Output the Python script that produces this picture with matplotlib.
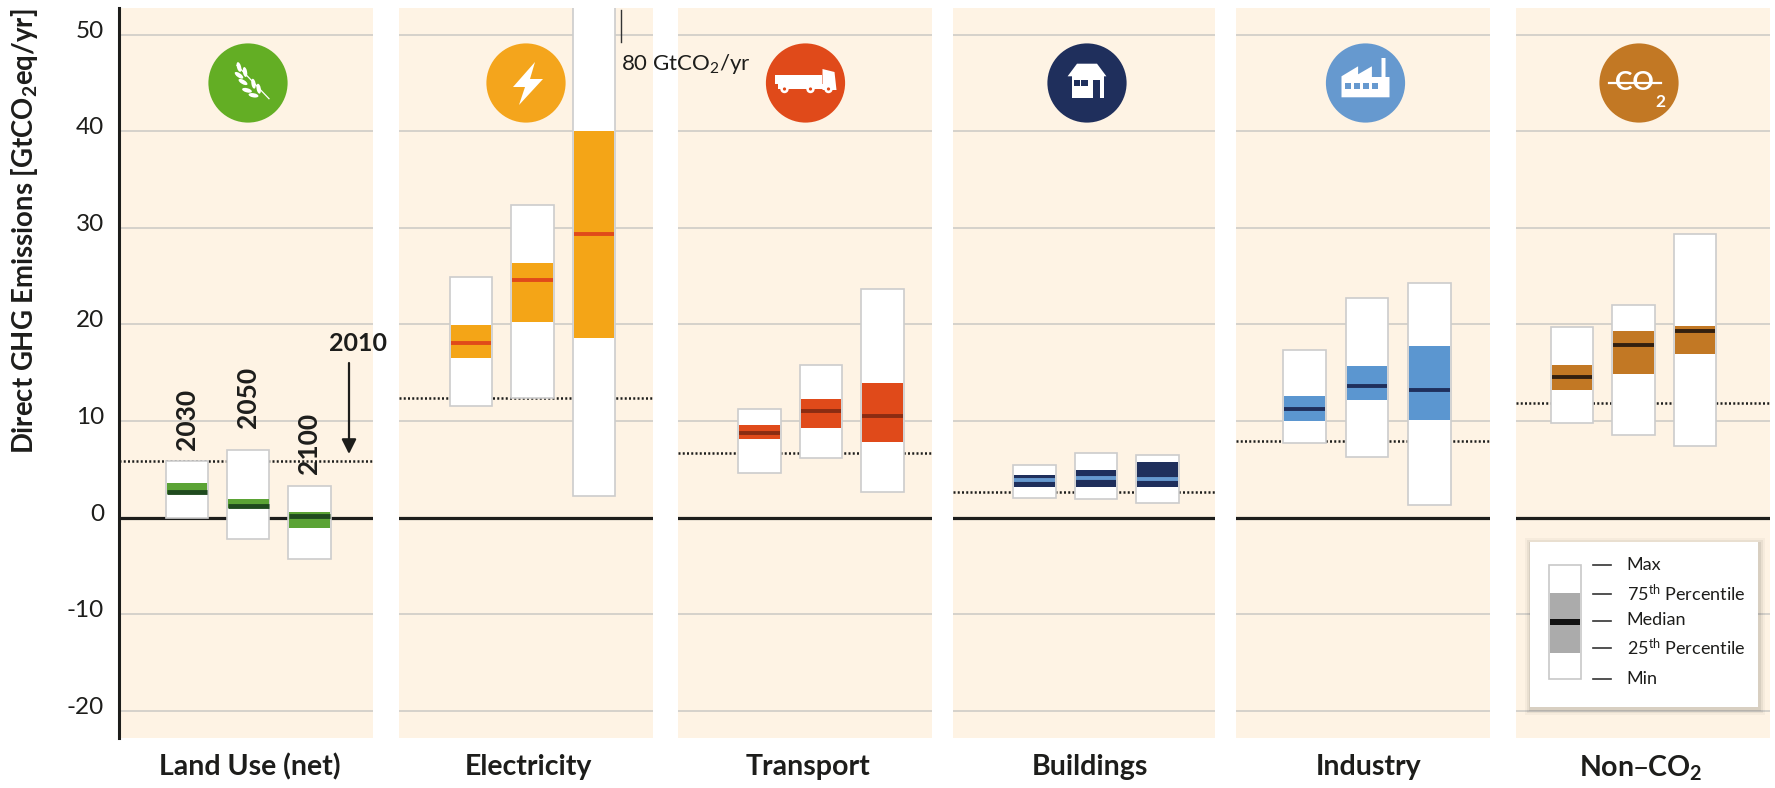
#!/usr/bin/env python3
from __future__ import annotations

import matplotlib
matplotlib.use("Agg")
import matplotlib.pyplot as plt
from matplotlib.patches import Circle, Ellipse, Polygon, Rectangle
from matplotlib.transforms import ScaledTranslation

FIG_W, FIG_H = 1775, 788

sectors = ["Land Use (net)", "Electricity", "Transport", "Buildings", "Industry", "Non\u2013CO$_2$"]
years = ["2030", "2050", "2100"]
yticks = [-20, -10, 0, 10, 20, 30, 40, 50]

# one row per sector, one value per year
box_max = [
    [5.9, 7.0, 3.3],
    [24.9, 32.4, 80.0],
    [11.2, 15.8, 23.7],
    [5.4, 6.7, 6.5],
    [17.4, 22.7, 24.3],
    [19.7, 22.0, 29.4],
]
box_q75 = [
    [3.55, 1.9, 0.6],
    [19.9, 26.4, 40.0],
    [9.6, 12.3, 13.9],
    [4.45, 4.9, 5.75],
    [12.6, 15.7, 17.8],
    [15.8, 19.3, 19.8],
]
box_median = [
    [2.7, 1.25, 0.15],
    [18.1, 24.6, 29.4],
    [8.8, 11.0, 10.5],
    [3.9, 4.1, 4.0],
    [11.2, 13.6, 13.2],
    [14.6, 17.9, 19.3],
]
box_q25 = [
    [2.45, 0.95, -1.05],
    [16.55, 20.2, 18.6],
    [8.1, 9.3, 7.85],
    [3.2, 3.2, 3.2],
    [10.0, 12.2, 10.1],
    [13.2, 14.9, 16.9],
]
box_min = [
    [0.0, -2.2, -4.3],
    [11.6, 12.4, 2.2],
    [4.6, 6.2, 2.6],
    [2.0, 1.9, 1.55],
    [7.7, 6.3, 1.3],
    [9.8, 8.5, 7.4],
]
level_2010 = [5.85, 12.4, 6.7, 2.7, 7.95, 11.9]

band_colors = ["#5BA335", "#F4A517", "#E04A1A", "#1F2F5C", "#5B96D0", "#C27824"]
median_colors = ["#1F4A1E", "#E04A1A", "#8A2C12", "#6699CF", "#1F2F5C", "#33200F"]
median_widths = [3.5, 2.8, 2.8, 2.8, 2.8, 2.8]
icon_colors = ["#63AE24", "#F4A51C", "#E04A1A", "#1F2F5C", "#6699CF", "#C27824"]

# layout in reference pixels
panel_left = [119.4, 398.6, 678, 953, 1236, 1515.6]
panel_right = [373, 653, 932, 1215, 1490, 1770]
first_box_center = [187, 471, 759.5, 1034.5, 1304.5, 1572]
box_spacing = [61.2, 61.5, 61.5, 61.5, 62.5, 61.5]
icon_center = [248, 526, 805.5, 1087, 1365.5, 1639]
label_center = [250, 528, 808, 1090, 1369, 1641]
panel_top, panel_bottom = 8, 738.3
zero_y, px_per_unit = 517.6, 9.66

BG = "#FEF3E4"
GRID = "#CFCCC6"
INK = "#1D1D1B"

plt.rcParams["font.family"] = ["Lato", "DejaVu Sans"]
plt.rcParams["axes.unicode_minus"] = False
plt.rcParams["mathtext.default"] = "regular"


def draw_panel(fig, i):
    left, right = panel_left[i], panel_right[i]
    ax = fig.add_axes([
        left / FIG_W,
        1 - panel_bottom / FIG_H,
        (right - left) / FIG_W,
        (panel_bottom - panel_top) / FIG_H,
    ])
    ax.set_facecolor(BG)
    ax.set_xlim((left - first_box_center[i]) / box_spacing[i], (right - first_box_center[i]) / box_spacing[i])
    ax.set_ylim((zero_y - panel_bottom) / px_per_unit, (zero_y - panel_top) / px_per_unit)
    ax.set_yticks(yticks)
    ax.set_xticks([])
    ax.grid(True, axis="y", color=GRID, linewidth=1.2)
    ax.set_axisbelow(True)
    for spine in ax.spines.values():
        spine.set_visible(False)

    ax.axhline(0, color=INK, linewidth=2.3, zorder=1.5)
    ax.axhline(level_2010[i], color=INK, linewidth=1.8, linestyle=(0, (0.8, 0.9)), zorder=1.6)

    xs = range(len(years))
    width = 42.5 / box_spacing[i]
    for x, lo, q1, med, q3, hi in zip(xs, box_min[i], box_q25[i], box_median[i], box_q75[i], box_max[i]):
        ax.bar(x, hi - lo, width, bottom=lo, color="white", edgecolor="#CCCCCC", linewidth=1.2, zorder=2)
        ax.bar(x, q3 - q1, width - 0.03, bottom=q1, color=band_colors[i], zorder=3)
        ax.plot([x - width / 2 + 0.015, x + width / 2 - 0.015], [med, med], color=median_colors[i],
                linewidth=median_widths[i], solid_capstyle="butt", zorder=4)

    frac = (label_center[i] - left) / (right - left)
    ax.set_xlabel(sectors[i], x=frac, fontsize=20.5, fontweight="bold", color=INK, labelpad=11)
    return ax


def draw_icons(over):
    for cx, color in zip(icon_center, icon_colors):
        over.add_patch(Circle((cx, 83), 39.6, color=color, linewidth=0))

    # wheat
    cx = icon_center[0]
    over.plot([cx + 21, cx - 11], [98.7, 65.3], color="white", linewidth=0.9)
    for dx, dy, angle in [(-9, -16, 75), (-3, -11, 80), (-9, -7.7, 35), (5.5, 0.7, 80), (-5, -1, 30),
                          (10.7, 5.7, 80), (-1, 7.3, 15), (5.5, 12.3, 10)]:
        over.add_patch(Ellipse((cx + dx, 83 + dy), 10, 4.2, angle=angle, color="white", linewidth=0))

    # bolt
    cx = icon_center[1]
    over.add_patch(Polygon([(cx + 9, 62), (cx - 13, 87), (cx - 1, 87), (cx - 7, 105),
                            (cx + 17, 79), (cx + 4, 79)], color="white", linewidth=0))

    # truck
    cx = icon_center[2]
    over.add_patch(Rectangle((cx - 30.5, 75), 46.5, 9, color="white", linewidth=0))
    over.add_patch(Rectangle((cx - 28, 84), 48, 5, color="white", linewidth=0))
    over.add_patch(Polygon([(cx + 17, 69), (cx + 29, 72), (cx + 31, 90), (cx + 17, 90)], color="white", linewidth=0))
    for dx in (-21, 5, 23):
        over.add_patch(Circle((cx + dx, 89), 4.2, color="white", linewidth=0))
        over.add_patch(Circle((cx + dx, 89), 1.6, color=icon_colors[2], linewidth=0))

    # house
    cx = icon_center[3]
    over.add_patch(Polygon([(cx - 10, 63.7), (cx + 10, 63.7), (cx + 19.4, 76.3), (cx - 19.4, 76.3)],
                           color="white", linewidth=0))
    over.add_patch(Rectangle((cx - 15.4, 76), 32.4, 22, color="white", linewidth=0))
    for wx in (-13.4, -5.8):
        over.add_patch(Rectangle((cx + wx, 79.7), 6.6, 6.6, color=icon_colors[3], linewidth=0))
    over.add_patch(Rectangle((cx + 6.3, 79.7), 6.3, 18.5, color=icon_colors[3], linewidth=0))

    # factory
    cx = icon_center[4]
    over.add_patch(Polygon([(cx - 24, 76.3), (cx - 7.4, 66.3), (cx - 7.4, 74.3), (cx + 6.4, 66.3), (cx + 6.4, 77),
                            (cx + 16, 77), (cx + 16, 58), (cx + 20, 58), (cx + 20, 77), (cx + 24, 77),
                            (cx + 24, 97.3), (cx - 24, 97.3)], color="white", linewidth=0))
    for wx in (-21, -12, -3, 6):
        over.add_patch(Rectangle((cx + wx, 82.7), 6, 6.3, color=icon_colors[4], linewidth=0))

    # crossed out CO2
    cx = icon_center[5]
    over.text(cx - 5, 82, "CO", color="white", fontsize=19, fontweight="bold", ha="center", va="center")
    over.plot([cx - 30, cx + 22], [83, 83], color="white", linewidth=1.6)
    over.text(cx + 21, 102, "2", color="white", fontsize=12.5, fontweight="bold", ha="center", va="center")


def draw_legend(over):
    for grow, alpha in [(6, 0.03), (4, 0.05), (2, 0.07)]:
        over.add_patch(Rectangle((1530 - grow + 1, 541.7 - grow + 2), 228 + 2 * grow, 165 + 2 * grow,
                                 color="black", alpha=alpha, linewidth=0))
    over.add_patch(Rectangle((1530, 541.7), 228, 165, color="white", linewidth=0))

    over.add_patch(Rectangle((1549.3, 565), 31.4, 114, facecolor="white", edgecolor="#C8C8C8", linewidth=1.2))
    over.add_patch(Rectangle((1550, 592.7), 30, 60, color="#ABABAB", linewidth=0))
    over.add_patch(Rectangle((1550, 618.7), 30, 6, color="#111111", linewidth=0))

    names = ["Max", "75$^{th}$ Percentile", "Median", "25$^{th}$ Percentile", "Min"]
    ys = [565, 594, 620.7, 648.3, 679]
    for name, y in zip(names, ys):
        over.plot([1593.3, 1610.7], [y, y], color="#333333", linewidth=1.2)
        over.text(1626.7, y - 0.5, name, fontsize=13, color=INK, ha="left", va="center")


def main() -> None:
    fig = plt.figure(figsize=(FIG_W / 100, FIG_H / 100), dpi=100)
    axes = [draw_panel(fig, i) for i in range(len(sectors))]

    for ax in axes[1:]:
        ax.tick_params(left=False, labelleft=False)

    ax = axes[0]
    ax.spines["left"].set_visible(True)
    ax.spines["left"].set_linewidth(2.2)
    ax.spines["left"].set_color(INK)
    ax.tick_params(axis="y", length=0, pad=11, labelsize=17.5, labelcolor=INK)
    up = ScaledTranslation(0, 5.5 / 100, fig.dpi_scale_trans)
    for label in ax.get_yticklabels():
        label.set_transform(label.get_transform() + up)

    fig.text(25 / FIG_W, 1 - 231 / FIG_H, "Direct GHG Emissions [GtCO$_2$eq/yr]", rotation=90,
             fontsize=19.8, fontweight="bold", color=INK, ha="center", va="center")

    # year labels sit above the land use boxes
    for x, y, year in zip(range(3), [7.0, 9.3, 4.5], years):
        ax.text(x, y, year, rotation=90, fontsize=19, fontweight="bold", color=INK, ha="center", va="bottom", zorder=5)

    over = fig.add_axes([0, 0, 1, 1], zorder=10)
    over.set_xlim(0, FIG_W)
    over.set_ylim(FIG_H, 0)
    over.axis("off")

    over.text(358, 343, "2010", fontsize=18, fontweight="bold", color=INK, ha="center", va="center")
    over.annotate("", xy=(349, 454), xytext=(349, 363),
                  arrowprops=dict(arrowstyle="-|>", color=INK, linewidth=1.6, mutation_scale=22, shrinkA=0, shrinkB=0))

    over.plot([621, 621], [10, 42], color="#333333", linewidth=1.0)
    over.text(621, 70, "80 GtCO$_2$/yr", fontsize=16, color=INK, ha="left", va="baseline")

    draw_icons(over)
    draw_legend(over)

    fig.savefig("out.png", dpi=100, facecolor="white")
    plt.close(fig)


if __name__ == "__main__":
    main()
